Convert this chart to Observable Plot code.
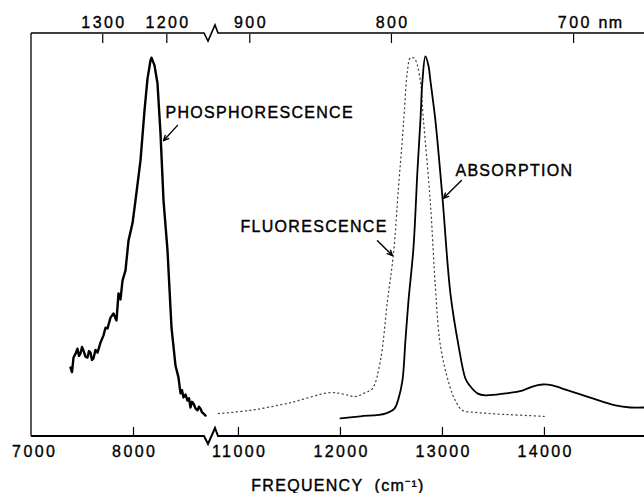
<!DOCTYPE html>
<html><head><meta charset="utf-8">
<script src="https://cdn.jsdelivr.net/npm/d3@7"></script>
<script src="https://cdn.jsdelivr.net/npm/@observablehq/plot@0.6"></script>
<style>
body{margin:0;background:#fff} svg{display:block}
svg text{letter-spacing:1.3px}
g[aria-label="x-axis tick label"] text{letter-spacing:2.4px;stroke:#000;stroke-width:0.35px;fill:#000}
</style>
</head><body><div id="chart"></div>
<script>
// Phosphorescence (cm^-1, relative intensity)
const phosFreq = [7370,7385,7400,7420,7440,7455,7470,7485,7500,7520,7540,7555,7570,7585,7600,7620,7640,7670,7700,7720,7740,7770,7800,7830,7850,7870,7890,7920,7950,7990,8020,8070,8110,8140,8170,8180,8210,8240,8270,8300,8340,8380,8420,8450,8470,8485,8500,8520,8540,8555,8570,8585,8600,8620,8640,8655,8670,8685,8700,8720];
const phosInt  = [0.171,0.16,0.196,0.205,0.218,0.2,0.206,0.222,0.213,0.198,0.196,0.212,0.208,0.19,0.194,0.215,0.208,0.233,0.251,0.27,0.268,0.295,0.305,0.288,0.355,0.34,0.387,0.412,0.486,0.529,0.586,0.685,0.809,0.888,0.933,0.94,0.921,0.876,0.752,0.586,0.462,0.27,0.176,0.146,0.107,0.115,0.097,0.104,0.089,0.095,0.072,0.086,0.082,0.07,0.065,0.074,0.069,0.06,0.057,0.052];
// Fluorescence
const fluorFreq = [10804,11118,11510,11902,12049,12147,12245,12314,12392,12461,12520,12569,12608,12627,12657,12686,12725,12775,12814,12882,12931,12980,13069,13127,13196,13324,13461,14000];
const fluorInt  = [0.057,0.065,0.084,0.109,0.104,0.099,0.109,0.119,0.189,0.337,0.454,0.618,0.742,0.809,0.908,0.94,0.938,0.896,0.784,0.578,0.37,0.226,0.127,0.089,0.065,0.06,0.057,0.05];
// Absorption
const absFreq = [12000,12196,12441,12529,12569,12608,12637,12667,12716,12755,12784,12804,12833,12863,12882,12931,13000,13078,13157,13225,13265,13343,13422,13618,13784,13882,13980,14078,14176,14441,14696,14843,14980];
const absInt  = [0.045,0.05,0.057,0.069,0.094,0.139,0.238,0.337,0.469,0.66,0.784,0.883,0.943,0.92,0.883,0.784,0.593,0.355,0.226,0.144,0.127,0.107,0.102,0.107,0.114,0.124,0.129,0.127,0.119,0.097,0.077,0.072,0.072];

// Axis ticks
const bottomTickLabels = [7000, 8000, 11000, 12000, 13000, 14000];
const bottomTickMarks = [8000, 11000, 12000, 13000, 14000];
const topTicksNm = [1300, 1200, 900, 800, 700];

// Annotations
const annLabels = ["PHOSPHORESCENCE", "FLUORESCENCE", "ABSORPTION"];
const annTextFreq = [8320, 11020, 13127];
const annTextInt = [0.804, 0.519, 0.66];
const annTailFreq = [8440, 12363, 13186];
const annTailInt = [0.772, 0.486, 0.635];
const annTipFreq = [8300, 12510, 13010];
const annTipInt = [0.734, 0.449, 0.591];

// Broken axis: left segment kept as is, right segment shifted left
const BREAK_LO = 8820, BREAK_HI = 10775, RIGHT_STRETCH = 1.02;
const u = f => f <= BREAK_LO ? f : BREAK_LO + (f - BREAK_HI) * RIGHT_STRETCH;

const phos = phosFreq.map((f, i) => ({x: u(f), y: phosInt[i]}));
const fluor = fluorFreq.map((f, i) => ({x: u(f), y: fluorInt[i]}));
const abs = absFreq.map((f, i) => ({x: u(f), y: absInt[i]}));
const ann = annLabels.map((t, i) => ({
  text: t, tx: u(annTextFreq[i]), ty: annTextInt[i],
  x1: u(annTailFreq[i]), y1: annTailInt[i], x2: u(annTipFreq[i]), y2: annTipInt[i]
}));

const FONT = "'Liberation Sans', Arial, sans-serif";

function frameMark(index, scales, values, dims) {
  const {width, height, marginLeft, marginTop, marginBottom} = dims;
  const yT = marginTop, yB = height - marginBottom;
  const bx = scales.x(BREAK_LO) - 2;
  const g = d3.create("svg:g").attr("fill", "none").attr("stroke", "#000");
  const brk = y => `M${marginLeft},${y}L${bx-9},${y}L${bx-5},${y+8}L${bx+2},${y-8}L${bx+5},${y}L${width},${y}`;
  g.append("path").attr("d", brk(yT)).attr("stroke-width", 1.6);
  g.append("path").attr("d", brk(yB)).attr("stroke-width", 2);
  g.append("path").attr("d", `M${marginLeft},${yT}L${marginLeft},${yB}`).attr("stroke-width", 1.3);
  return g.node();
}

const txt = {fontSize: 16, fill: "#000", stroke: "#000", strokeWidth: 0.4};

const chart = Plot.plot({
  width: 644, height: 493,
  marginLeft: 31, marginRight: 0, marginTop: 33, marginBottom: 57,
  style: {fontFamily: FONT, background: "#fff", color: "#000"},
  x: {domain: [6980, 13110], axis: null},
  y: {domain: [0, 1], axis: null},
  marks: [
    frameMark,
    // bottom tick marks (inward)
    Plot.axisX(bottomTickMarks.map(u), {anchor: "bottom", tickSize: -9, tickFormat: () => "", strokeWidth: 1.2}),
    // bottom tick labels
    Plot.axisX(bottomTickLabels.map(u), {anchor: "bottom", tickSize: 0, tickPadding: 9, dx: 1.2,
      tickFormat: (d, i) => String(bottomTickLabels[i]), ...txt}),
    // top tick marks (inward)
    Plot.axisX(topTicksNm.map(n => u(1e7 / n)), {anchor: "top", tickSize: -9, tickFormat: () => "", strokeWidth: 1.2}),
    // top tick labels
    Plot.axisX(topTicksNm.map(n => u(1e7 / n)), {anchor: "top", tickSize: 0, tickPadding: 6, dx: 1.2,
      tickFormat: (d, i) => String(topTicksNm[i]), ...txt}),
    Plot.text(["nm"], {x: u(1e7 / 700), frameAnchor: "top", dy: -6, dx: 25, textAnchor: "start",
      lineAnchor: "bottom", ...txt}),
    Plot.text(["FREQUENCY  (cm\u207B\u00B9)"], {frameAnchor: "bottom", dy: 54, dx: 0, lineAnchor: "bottom", ...txt}),
    // curves
    Plot.line(fluor, {x: "x", y: "y", stroke: "#444", strokeWidth: 1.3, strokeDasharray: "1,3.5", curve: "catmull-rom"}),
    Plot.line(abs, {x: "x", y: "y", stroke: "#000", strokeWidth: 1.8, curve: "catmull-rom"}),
    Plot.line(phos, {x: "x", y: "y", stroke: "#000", strokeWidth: 2.4, curve: "linear"}),
    // annotations
    Plot.arrow(ann, {x1: "x1", y1: "y1", x2: "x2", y2: "y2", stroke: "#000", strokeWidth: 1.4, headLength: 6, headAngle: 50}),
    Plot.text(ann, {x: "tx", y: "ty", text: "text", textAnchor: "start", ...txt})
  ]
});
document.getElementById("chart").appendChild(chart);
</script>
</body></html>
